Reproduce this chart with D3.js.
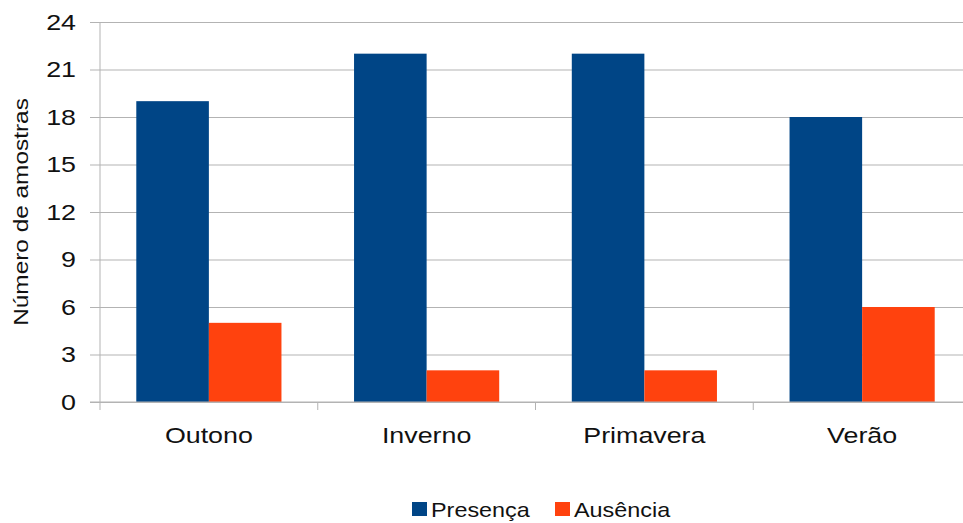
<!DOCTYPE html>
<html>
<head>
<meta charset="utf-8">
<script src="https://cdn.jsdelivr.net/npm/d3@7"></script>
<style>
  html, body { margin: 0; padding: 0; background: #fff; }
  svg { display: block; }
  text { font-family: "Liberation Sans", Arial, sans-serif; fill: #111; }
</style>
</head>
<body>
<svg id="chart" width="963" height="523"></svg>
<script>
// Seasonal sample counts
const seasons = ["Outono", "Inverno", "Primavera", "Verão"];
const seriesNames = ["Presença", "Ausência"];
const presenca = [19, 22, 22, 18];
const ausencia = [5, 2, 2, 6];
const yTicks = [0, 3, 6, 9, 12, 15, 18, 21, 24];
const colors = ["#004586", "#ff420e"];
const yTitle = "Número de amostras";

const W = 963, H = 523;
const margin = { left: 100, top: 22, right: -8, bottom: 121 };
const plotW = W - margin.left - margin.right;
const plotH = H - margin.top - margin.bottom;
const stretch = 1.22; // horizontal glyph stretch for axis labels
const legendStretch = 1.17;

const svg = d3.select("#chart");
const g = svg.append("g").attr("transform", `translate(${margin.left},${margin.top})`);

const x = d3.scaleBand().domain(seasons).range([0, plotW]).paddingInner(0).paddingOuter(0);
const inner = d3.scaleBand().domain(seriesNames).range([0, x.bandwidth()]).paddingInner(0).paddingOuter(0.5);
const y = d3.scaleLinear().domain([0, 24]).range([plotH, 0]);

// horizontal grid
g.append("g").attr("class", "grid")
  .call(d3.axisLeft(y).tickValues(yTicks).tickSize(-plotW).tickFormat(""))
  .call(s => s.select(".domain").remove())
  .call(s => s.selectAll("line").attr("stroke", "#b3b3b3").attr("stroke-width", 1));

// y axis with outward ticks
const yAxis = g.append("g")
  .call(d3.axisLeft(y).tickValues(yTicks).tickSize(10).tickSizeOuter(0))
  .call(s => s.select(".domain").remove())
  .call(s => s.selectAll("line").attr("stroke", "#b3b3b3"));
yAxis.selectAll("text")
  .attr("x", 0)
  .attr("transform", `translate(-24,0) scale(${stretch},1)`)
  .style("font-size", "22px")
  .style("fill", "#111");

// vertical axis line
g.append("line")
  .attr("x1", 0).attr("x2", 0).attr("y1", 0).attr("y2", plotH + 8)
  .attr("stroke", "#b3b3b3");

// bars
const rows = seasons.map((s, i) => ({ season: s, values: [presenca[i], ausencia[i]] }));
const groups = g.append("g").selectAll("g").data(rows).join("g")
  .attr("transform", d => `translate(${x(d.season)},0)`);
groups.selectAll("rect")
  .data(d => d.values.map((v, k) => ({ key: seriesNames[k], value: v, k })))
  .join("rect")
  .attr("x", d => inner(d.key))
  .attr("width", inner.bandwidth())
  .attr("y", d => y(d.value))
  .attr("height", d => y(0) - y(d.value))
  .attr("fill", d => colors[d.k]);

// bottom axis: baseline and category boundary ticks
g.append("line")
  .attr("x1", -10).attr("x2", plotW).attr("y1", plotH).attr("y2", plotH)
  .attr("stroke", "#b3b3b3");
const bounds = seasons.slice(1).map(s => x(s));
g.append("g").selectAll("line").data(bounds).join("line")
  .attr("x1", d => d).attr("x2", d => d)
  .attr("y1", plotH).attr("y2", plotH + 8)
  .attr("stroke", "#b3b3b3");

// category labels
const xAxis = g.append("g").attr("transform", `translate(0,${plotH})`)
  .call(d3.axisBottom(x).tickSize(0).tickPadding(0))
  .call(s => s.select(".domain").remove());
xAxis.selectAll("text")
  .attr("y", 0).attr("dy", null)
  .attr("transform", `translate(0,41) scale(${stretch},1)`)
  .style("font-size", "22px")
  .style("fill", "#111");

// y axis title
svg.append("text")
  .attr("transform", `translate(28,${margin.top + plotH / 2}) rotate(-90) scale(${stretch},1)`)
  .attr("text-anchor", "middle")
  .style("font-size", "20px")
  .text(yTitle);

// legend
const legend = svg.append("g").attr("transform", "translate(412,502)");
const legendX = [0, 143];
seriesNames.forEach((name, k) => {
  const item = legend.append("g").attr("transform", `translate(${legendX[k]},0)`);
  item.append("rect").attr("width", 15).attr("height", 14).attr("fill", colors[k]);
  item.append("text")
    .attr("transform", `translate(19,15) scale(${legendStretch},1)`)
    .style("font-size", "20px")
    .text(name);
});
</script>
</body>
</html>
